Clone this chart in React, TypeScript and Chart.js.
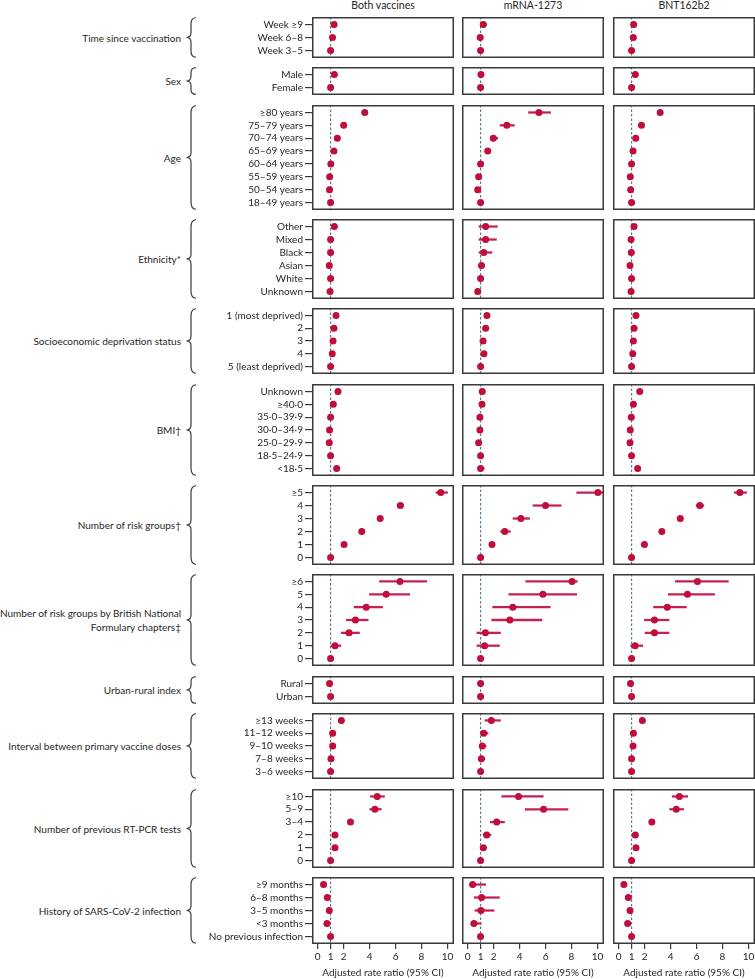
import React, { useEffect, useRef } from "react";
import { Chart, registerables } from "chart.js";

Chart.register(...registerables);

// ---------------- DATA ----------------
const columnTitles = ["Both vaccines", "mRNA-1273", "BNT162b2"];

const groupNames = [
  "Time since vaccination",
  "Sex",
  "Age",
  "Ethnicity*",
  "Socioeconomic deprivation status",
  "BMI†",
  "Number of risk groups†",
  "Number of risk groups by British National\nFormulary chapters‡",
  "Urban-rural index",
  "Interval between primary vaccine doses",
  "Number of previous RT-PCR tests",
  "History of SARS-CoV-2 infection",
];

const groupRows = [
  ["Week ≥9", "Week 6–8", "Week 3–5"],
  ["Male", "Female"],
  ["≥80 years", "75–79 years", "70–74 years", "65–69 years", "60–64 years", "55–59 years", "50–54 years", "18–49 years"],
  ["Other", "Mixed", "Black", "Asian", "White", "Unknown"],
  ["1 (most deprived)", "2", "3", "4", "5 (least deprived)"],
  ["Unknown", "≥40·0", "35·0–39·9", "30·0–34·9", "25·0–29·9", "18·5–24·9", "<18·5"],
  ["≥5", "4", "3", "2", "1", "0"],
  ["≥6", "5", "4", "3", "2", "1", "0"],
  ["Rural", "Urban"],
  ["≥13 weeks", "11–12 weeks", "9–10 weeks", "7–8 weeks", "3–6 weeks"],
  ["≥10", "5–9", "3–4", "2", "1", "0"],
  ["≥9 months", "6–8 months", "3–5 months", "<3 months", "No previous infection"],
];

const xTickValues = [0, 1, 2, 4, 6, 8, 10];
const xAxisTitle = "Adjusted rate ratio (95% CI)";

// Both vaccines
const bothEst = [
  [1.27, 1.15, 1.0],
  [1.29, 1.0],
  [3.63, 2.01, 1.52, 1.26, 1.02, 0.93, 0.92, 1.0],
  [1.29, 1.0, 1.0, 0.9, 1.0, 0.96],
  [1.42, 1.26, 1.19, 1.13, 1.0],
  [1.57, 1.21, 1.0, 0.92, 0.9, 1.0, 1.47],
  [9.48, 6.37, 4.82, 3.4, 2.04, 1.0],
  [6.34, 5.28, 3.74, 2.91, 2.42, 1.34, 1.0],
  [0.92, 1.0],
  [1.83, 1.16, 1.16, 1.03, 1.0],
  [4.59, 4.41, 2.53, 1.34, 1.34, 1.0],
  [0.46, 0.75, 0.9, 0.72, 1.0],
];
const bothLo = [
  [1.22, 1.1, 1.0],
  [1.25, 1.0],
  [3.5, 1.93, 1.46, 1.21, 0.98, 0.9, 0.89, 1.0],
  [1.2, 0.94, 0.94, 0.86, 1.0, 0.92],
  [1.36, 1.2, 1.14, 1.08, 1.0],
  [1.5, 1.13, 0.95, 0.89, 0.87, 1.0, 1.33],
  [9.12, 6.13, 4.65, 3.28, 1.97, 1.0],
  [4.77, 3.99, 2.81, 2.22, 1.83, 1.03, 1.0],
  [0.89, 1.0],
  [1.74, 1.1, 1.1, 0.98, 1.0],
  [4.07, 4.02, 2.42, 1.27, 1.27, 1.0],
  [0.38, 0.66, 0.8, 0.6, 1.0],
];
const bothHi = [
  [1.33, 1.2, 1.0],
  [1.33, 1.0],
  [3.77, 2.1, 1.59, 1.31, 1.06, 0.97, 0.96, 1.0],
  [1.38, 1.06, 1.06, 0.95, 1.0, 1.0],
  [1.48, 1.32, 1.24, 1.18, 1.0],
  [1.65, 1.3, 1.05, 0.96, 0.93, 1.0, 1.62],
  [10.0, 6.62, 5.0, 3.52, 2.11, 1.0],
  [8.4, 7.09, 5.0, 3.89, 3.22, 1.8, 1.0],
  [0.96, 1.0],
  [1.92, 1.22, 1.22, 1.08, 1.0],
  [5.15, 4.9, 2.65, 1.41, 1.41, 1.0],
  [0.55, 0.85, 1.0, 0.86, 1.0],
];

// mRNA-1273
const mrnaEst = [
  [1.21, 0.97, 1.0],
  [1.03, 1.0],
  [5.49, 3.02, 1.98, 1.55, 1.0, 0.85, 0.78, 1.0],
  [1.39, 1.39, 1.24, 1.07, 1.0, 0.78],
  [1.49, 1.39, 1.19, 1.26, 1.0],
  [1.13, 1.11, 0.95, 0.95, 0.85, 1.0, 1.0],
  [10.03, 6.0, 4.1, 2.86, 1.88, 1.0],
  [8.04, 5.8, 3.48, 3.25, 1.37, 1.31, 1.0],
  [1.0, 1.0],
  [1.83, 1.24, 1.13, 1.06, 1.0],
  [3.92, 5.85, 2.24, 1.47, 1.21, 1.0],
  [0.39, 1.08, 1.03, 0.49, 1.0],
];
const mrnaLo = [
  [1.02, 0.85, 1.0],
  [0.95, 1.0],
  [4.69, 2.5, 1.75, 1.35, 0.9, 0.75, 0.68, 1.0],
  [0.88, 0.88, 0.88, 0.92, 1.0, 0.62],
  [1.35, 1.25, 1.05, 1.12, 1.0],
  [0.95, 0.95, 0.82, 0.85, 0.76, 1.0, 0.85],
  [8.4, 5.03, 3.5, 2.55, 1.7, 1.0],
  [4.48, 3.17, 1.93, 1.86, 0.72, 0.72, 1.0],
  [0.9, 1.0],
  [1.34, 1.0, 0.92, 0.88, 1.0],
  [2.63, 4.43, 1.75, 1.2, 1.0, 1.0],
  [0.15, 0.52, 0.57, 0.26, 1.0],
];
const mrnaHi = [
  [1.45, 1.1, 1.0],
  [1.12, 1.0],
  [6.39, 3.6, 2.32, 1.75, 1.12, 0.98, 0.9, 1.0],
  [2.29, 2.22, 1.88, 1.3, 1.0, 0.95],
  [1.65, 1.55, 1.34, 1.42, 1.0],
  [1.32, 1.3, 1.1, 1.06, 0.95, 1.0, 1.28],
  [11.0, 7.2, 4.77, 3.3, 2.08, 1.0],
  [8.45, 8.4, 6.36, 5.72, 2.53, 2.45, 1.0],
  [1.12, 1.0],
  [2.53, 1.57, 1.42, 1.33, 1.0],
  [5.82, 7.73, 2.84, 1.8, 1.45, 1.0],
  [1.39, 2.45, 2.04, 1.03, 1.0],
];

// BNT162b2
const bntEst = [
  [1.16, 1.13, 1.0],
  [1.29, 1.0],
  [3.2, 1.76, 1.32, 1.11, 1.0, 0.9, 0.93, 1.0],
  [1.19, 0.96, 0.98, 0.88, 1.0, 0.96],
  [1.34, 1.19, 1.14, 1.09, 1.0],
  [1.63, 1.14, 0.98, 0.9, 0.88, 1.0, 1.47],
  [9.33, 6.25, 4.75, 3.33, 1.99, 1.0],
  [6.07, 5.3, 3.75, 2.76, 2.76, 1.27, 1.0],
  [0.92, 1.0],
  [1.83, 1.14, 1.11, 1.0, 1.0],
  [4.68, 4.44, 2.56, 1.29, 1.34, 1.0],
  [0.41, 0.75, 0.88, 0.7, 1.0],
];
const bntLo = [
  [1.11, 1.08, 1.0],
  [1.25, 1.0],
  [3.08, 1.69, 1.26, 1.06, 0.96, 0.86, 0.89, 1.0],
  [1.1, 0.89, 0.91, 0.84, 1.0, 0.92],
  [1.28, 1.13, 1.09, 1.04, 1.0],
  [1.55, 1.05, 0.93, 0.87, 0.85, 1.0, 1.32],
  [8.9, 5.97, 4.58, 3.2, 1.91, 1.0],
  [4.37, 3.82, 2.69, 1.99, 2.04, 0.93, 1.0],
  [0.88, 1.0],
  [1.74, 1.08, 1.06, 0.96, 1.0],
  [4.13, 3.93, 2.45, 1.22, 1.27, 1.0],
  [0.33, 0.65, 0.78, 0.58, 1.0],
];
const bntHi = [
  [1.21, 1.18, 1.0],
  [1.33, 1.0],
  [3.33, 1.84, 1.38, 1.16, 1.04, 0.94, 0.97, 1.0],
  [1.28, 1.03, 1.05, 0.92, 1.0, 1.0],
  [1.4, 1.25, 1.19, 1.14, 1.0],
  [1.72, 1.23, 1.03, 0.93, 0.91, 1.0, 1.63],
  [9.85, 6.56, 4.93, 3.46, 2.07, 1.0],
  [8.45, 7.39, 5.22, 3.88, 3.88, 1.86, 1.0],
  [0.96, 1.0],
  [1.92, 1.2, 1.16, 1.04, 1.0],
  [5.32, 5.0, 2.68, 1.36, 1.41, 1.0],
  [0.5, 0.86, 0.98, 0.84, 1.0],
];

const colEst = [bothEst, mrnaEst, bntEst];
const colLo = [bothLo, mrnaLo, bntLo];
const colHi = [bothHi, mrnaHi, bntHi];

// ---------------- STYLE / LAYOUT ----------------
const FONT = "Lato, 'Liberation Sans', sans-serif";
const FS = 10;
const TEXT = "#262626";
const AXIS = "#3a3a3a";
const RED = "#bf0d3c";
const RED_LINE = "#c42152";
const DASH = "#5c7b86";

const ROW = 12.9;
const PAD = 7.5;
const GAP = 9.25;
const TOP0 = 17.3;
const COL_LEFT = [312, 462, 613];
const BOX_W = 142;
const AXW = 112;
const XAXIS_H = 35;
const XMIN = -0.43;
const XMAX = 10.5;

const boxes = (() => {
  let t = TOP0;
  return groupRows.map((rows) => {
    const h = (rows.length - 1) * ROW + 2 * PAD;
    const top = Math.round(t);
    const bottom = Math.round(t + h);
    t += h + GAP;
    return { top, height: bottom - top };
  });
})();

const panelDeco = {
  id: "panelDeco",
  beforeDatasetsDraw(chart: any) {
    const { ctx, chartArea: a, scales } = chart;
    const px = scales.x.getPixelForValue(1);
    ctx.save();
    ctx.strokeStyle = DASH;
    ctx.lineWidth = 1.2;
    ctx.setLineDash([2.5, 2]);
    ctx.beginPath();
    ctx.moveTo(px, a.top);
    ctx.lineTo(px, a.bottom);
    ctx.stroke();
    ctx.restore();
  },
  afterDraw(chart: any) {
    const { ctx, chartArea: a } = chart;
    ctx.save();
    ctx.strokeStyle = AXIS;
    ctx.lineWidth = 1.5;
    ctx.strokeRect(a.left + 0.75, a.top + 0.75, a.right - a.left - 1.5, a.bottom - a.top - 1.5);
    ctx.restore();
  },
};

function zeroPadding(s: any) {
  s.paddingTop = 0;
  s.paddingBottom = 0;
  s.paddingLeft = 0;
  s.paddingRight = 0;
}

function Panel({ col, g }: { col: number; g: number }) {
  const ref = useRef<HTMLCanvasElement>(null);
  const showY = col === 0;
  const showX = g === groupRows.length - 1;
  const box = boxes[g];
  const w = BOX_W + (showY ? AXW : 0);
  const h = box.height + (showX ? XAXIS_H : 0);
  const left = COL_LEFT[col] - (showY ? AXW : 0);

  useEffect(() => {
    const rows = groupRows[g];
    const n = rows.length;
    const est = colEst[col][g];
    const lo = colLo[col][g];
    const hi = colHi[col][g];
    const font = { family: FONT, size: FS };
    const chart = new Chart(ref.current as HTMLCanvasElement, {
      type: "scatter",
      data: {
        datasets: [
          {
            type: "scatter",
            data: est.map((v, i) => ({ x: v, y: i })),
            pointRadius: 3.5,
            pointHoverRadius: 3.5,
            pointBackgroundColor: RED,
            pointBorderWidth: 0,
            order: 0,
          } as any,
          {
            type: "bar",
            indexAxis: "y",
            data: lo.map((l, i) => ({ x: [l, hi[i]], y: i })),
            backgroundColor: RED_LINE,
            borderWidth: 0,
            barThickness: 1.6,
            grouped: false,
            clip: 0,
            order: 1,
          } as any,
        ],
      },
      options: {
        animation: false,
        responsive: false,
        maintainAspectRatio: false,
        events: [],
        layout: { padding: 0, autoPadding: false } as any,
        plugins: { legend: { display: false }, tooltip: { enabled: false } },
        scales: {
          x: {
            type: "linear",
            offset: false,
            min: XMIN,
            max: XMAX,
            display: showX,
            afterBuildTicks: (s: any) => {
              s.ticks = xTickValues.map((v) => ({ value: v }));
            },
            afterFit: (s: any) => {
              s.height = showX ? XAXIS_H : 0;
              zeroPadding(s);
            },
            grid: { offset: false, drawOnChartArea: false, drawTicks: true, tickLength: 5, color: AXIS, lineWidth: 1.2 },
            border: { display: false },
            ticks: { font, color: TEXT, padding: 2, maxRotation: 0, autoSkip: false },
            title: { display: true, text: xAxisTitle, font, color: TEXT, padding: { top: 4, bottom: 0 } },
          } as any,
          y: {
            type: "linear",
            offset: false,
            reverse: true,
            min: -PAD / ROW,
            max: n - 1 + PAD / ROW,
            display: showY,
            afterBuildTicks: (s: any) => {
              s.ticks = rows.map((_, i) => ({ value: i }));
            },
            afterFit: (s: any) => {
              s.width = showY ? AXW : 0;
              zeroPadding(s);
            },
            grid: { offset: false, drawOnChartArea: false, drawTicks: true, tickLength: 7, color: AXIS, lineWidth: 1.2 },
            border: { display: false },
            ticks: {
              font,
              color: TEXT,
              padding: 2,
              autoSkip: false,
              callback: (v: any) => rows[v as number],
            },
          } as any,
        },
      },
      plugins: [panelDeco],
    });
    return () => chart.destroy();
  }, []);

  return (
    <canvas
      ref={ref}
      width={w}
      height={h}
      style={{ position: "absolute", left, top: box.top, width: w, height: h }}
    />
  );
}

function Brace({ top, height }: { top: number; height: number }) {
  const W = 10;
  const H = height;
  const mid = H / 2;
  const x = 5;
  const c = Math.min(6, H * 0.12);
  const d = `M ${W} 0.75 Q ${x} 0.75 ${x} ${c + 2} L ${x} ${mid - 5} Q ${x} ${mid} 0.5 ${mid} Q ${x} ${mid} ${x} ${mid + 5} L ${x} ${H - c - 2} Q ${x} ${H - 0.75} ${W} ${H - 0.75}`;
  return (
    <svg
      width={W + 1}
      height={H}
      style={{ position: "absolute", left: 186, top, overflow: "visible" }}
    >
      <path d={d} fill="none" stroke={AXIS} strokeWidth={1.2} />
    </svg>
  );
}

export default function App() {
  return (
    <div
      style={{
        position: "absolute",
        left: 0,
        top: 0,
        width: 755,
        height: 979,
        background: "#ffffff",
        fontFamily: FONT,
        color: TEXT,
      }}
    >
      {columnTitles.map((t, c) => (
        <div
          key={t}
          style={{
            position: "absolute",
            left: COL_LEFT[c],
            width: BOX_W,
            top: -1,
            height: 13,
            lineHeight: "13px",
            fontSize: FS + 0.5,
            textAlign: "center",
          }}
        >
          {t}
        </div>
      ))}
      {groupNames.map((name, g) => {
        const b = boxes[g];
        return (
          <React.Fragment key={name}>
            <div
              style={{
                position: "absolute",
                left: 0,
                width: 181,
                top: b.top + b.height / 2,
                transform: "translateY(-50%)",
                textAlign: "right",
                fontSize: FS,
                lineHeight: "14px",
                whiteSpace: "pre",
              }}
            >
              {name}
            </div>
            <Brace top={b.top} height={b.height} />
          </React.Fragment>
        );
      })}
      {groupRows.map((_, g) =>
        [0, 1, 2].map((c) => <Panel key={`${g}-${c}`} col={c} g={g} />)
      )}
    </div>
  );
}
